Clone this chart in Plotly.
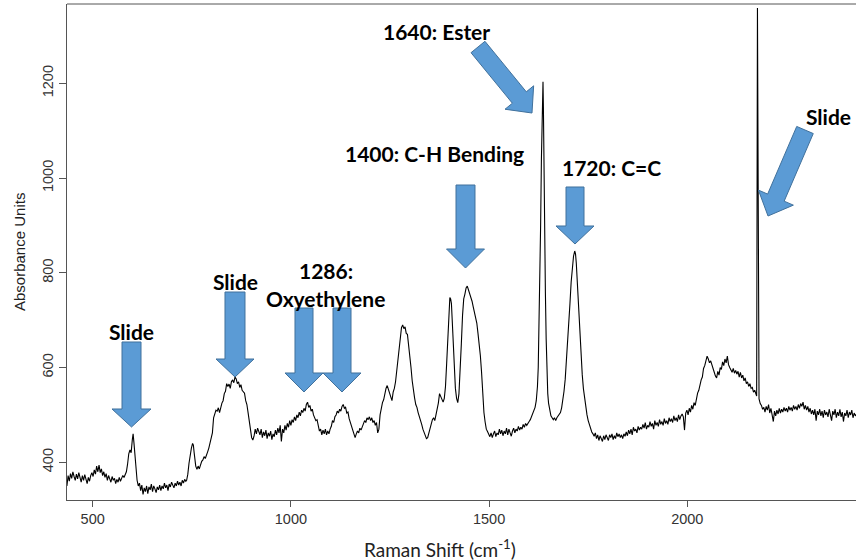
import math
import plotly.graph_objects as go

# ---------------- data ----------------
raman_shift = [
    435, 438, 441, 444, 447, 450, 453, 456, 459, 462, 465, 468, 471, 474, 477, 480, 483, 486, 489, 492,
    495, 498, 501, 504, 507, 510, 513, 516, 519, 522, 525, 528, 531, 534, 537, 540, 543, 546, 549, 552,
    555, 558, 561, 564, 567, 570, 573, 576, 579, 582,
    585, 588, 591, 594, 597, 600, 602, 604, 606, 608, 610, 612, 615, 618,
    621, 624, 627, 630, 633, 636, 639, 642, 645, 648, 651, 654, 657, 660, 663, 666, 669, 672, 675, 678,
    681, 684, 687, 690, 693, 696, 699, 702, 705, 708, 711, 714, 717, 720, 723, 726, 729, 732, 735,
    737, 740, 743, 746, 749, 752, 754, 756, 758, 760, 763, 766, 769, 772, 775, 778, 781, 784, 787, 790,
    793, 796, 799, 802, 805, 808, 811, 814, 817, 820, 823, 826, 829, 832, 835, 838, 841, 844, 847, 850,
    853, 856, 859, 862, 865, 868, 871, 874, 877, 880, 883, 886, 889, 892, 895, 898, 901, 904, 907, 910,
    913, 916, 919,
    922, 925, 928, 931, 934, 937, 940, 943, 946, 949, 952, 955, 958, 961, 964, 967, 970, 973, 976, 979,
    982, 985, 988, 991, 994, 997, 1000, 1003, 1006, 1009, 1012, 1015, 1018, 1021, 1024, 1027, 1030, 1033,
    1036, 1039, 1042, 1045, 1048, 1051, 1054, 1057, 1060, 1063, 1066, 1069, 1072, 1075, 1078, 1081, 1084,
    1087, 1090, 1093, 1096, 1099, 1102, 1105, 1108, 1111, 1114, 1117, 1120, 1123, 1126, 1129, 1132, 1135,
    1138, 1141, 1144, 1147, 1150, 1153, 1156, 1159, 1162, 1165, 1168, 1171, 1174, 1177, 1180, 1183, 1186,
    1189, 1192, 1195, 1198, 1201, 1204, 1207, 1210, 1213, 1216, 1219, 1222, 1225, 1228, 1231, 1234, 1237,
    1240, 1243, 1246, 1249, 1252, 1255, 1258, 1261, 1264, 1267, 1270, 1273, 1276, 1279, 1282, 1285, 1288,
    1291, 1294, 1297, 1300, 1303, 1306, 1309, 1312, 1315, 1318, 1321, 1324, 1327, 1330, 1333, 1336, 1339,
    1342, 1345, 1348, 1351, 1354, 1357, 1360, 1363, 1366, 1369, 1372, 1375, 1378, 1381, 1384, 1387, 1390,
    1393, 1395, 1397, 1399, 1401, 1403, 1405, 1407, 1409, 1411, 1413, 1415, 1418, 1421, 1424, 1427, 1430,
    1433, 1436, 1439, 1442, 1445, 1448, 1451, 1454, 1457, 1460, 1463, 1466, 1469, 1472, 1475, 1478, 1481,
    1484, 1487, 1490, 1493, 1496, 1499, 1502, 1505, 1508, 1511, 1514, 1517, 1520, 1523, 1526, 1529, 1532,
    1535, 1538, 1541, 1544, 1547, 1550, 1553, 1556, 1559, 1562, 1565, 1568, 1571, 1574, 1577, 1580, 1583,
    1586, 1589, 1592, 1595, 1598, 1601, 1604, 1607, 1610, 1613, 1616, 1619, 1622, 1624, 1626, 1628, 1630,
    1632, 1634, 1636, 1637, 1638, 1640, 1642, 1644, 1646, 1648, 1650, 1653, 1656, 1659, 1662, 1665, 1668,
    1671, 1674, 1677, 1680, 1683, 1686, 1689, 1692, 1695, 1698, 1701, 1704, 1707, 1710, 1713, 1716, 1718,
    1720, 1723, 1726, 1729, 1732, 1735, 1738, 1741, 1744, 1747, 1750, 1753, 1756, 1759, 1762, 1765, 1768,
    1771, 1774, 1777, 1780, 1783, 1786, 1789, 1792, 1795, 1798, 1801, 1804, 1807, 1810, 1813, 1816, 1819,
    1822, 1825, 1828, 1831, 1834, 1837, 1840, 1843, 1846, 1849, 1852, 1855, 1858, 1861, 1864, 1867, 1870,
    1873, 1876, 1879, 1882, 1885, 1888, 1891, 1894, 1897, 1900, 1903, 1906, 1909, 1912, 1915, 1918, 1921,
    1924, 1927, 1930, 1933, 1936, 1939, 1942, 1945, 1948, 1951, 1954, 1957, 1960, 1963, 1966, 1969, 1972,
    1975, 1978, 1981, 1984, 1987, 1990, 1993, 1996, 1999, 2002, 2005, 2008, 2011, 2014, 2017, 2020, 2023,
    2026, 2029, 2032, 2035, 2038, 2041, 2044, 2047, 2050, 2053, 2056, 2059, 2062, 2065, 2068, 2071, 2074,
    2077, 2080, 2083, 2086, 2089, 2092, 2095, 2098, 2101, 2104, 2107, 2110, 2113, 2116, 2119, 2122, 2125,
    2128, 2131, 2134, 2137, 2140, 2143, 2146, 2149, 2152, 2155, 2158, 2161, 2164, 2167, 2170, 2173, 2175,
    2177, 2181, 2184, 2187, 2190, 2193, 2196, 2199, 2202, 2205, 2208, 2211, 2214, 2217, 2220, 2223, 2226,
    2229, 2232, 2235, 2238, 2241, 2244, 2247, 2250, 2253, 2256, 2259, 2262, 2265, 2268, 2271, 2274, 2277,
    2280, 2283, 2286, 2289, 2292, 2295, 2298, 2301, 2304, 2307, 2310, 2313, 2316, 2319, 2322, 2325, 2328,
    2331, 2334, 2337, 2340, 2343, 2346, 2349, 2352, 2355, 2358, 2361, 2364, 2367, 2370, 2373, 2376, 2379,
    2382, 2385, 2388, 2391, 2394, 2397, 2400, 2403, 2406, 2409, 2412, 2415, 2418, 2421, 2424, 2427,
]

absorbance = [
    350, 372, 360, 376, 366, 380, 370, 362, 375, 365, 378, 368, 358, 372, 362, 374, 366, 355, 368, 360,
    372, 378, 370, 384, 375, 392, 380, 394, 378, 386, 372, 380, 368, 376, 362, 372, 365, 358, 370, 362,
    366, 355, 364, 358, 368, 360, 366, 372, 368, 375,
    380, 396, 418, 426, 420, 448, 460, 442, 420, 395, 378, 362, 350, 356,
    340, 352, 332, 346, 338, 350, 334, 348, 342, 354, 338, 350, 344, 336, 348, 342, 352, 340, 350, 344,
    356, 346, 352, 340, 354, 348, 358, 350, 346, 356, 350, 360, 352, 358, 350, 362, 356, 364, 360,
    362, 375, 398, 418, 430, 440, 436, 420, 405, 392, 385, 392, 386, 396, 402, 405, 412, 408, 418, 422,
    430, 440, 448, 462, 494, 502, 510, 508, 515, 505, 518, 525, 530, 545, 550, 566, 560, 565, 556, 570,
    574, 568, 580, 576, 566, 570, 558, 564, 552, 548, 546, 530, 522, 505, 490, 470, 452, 447, 455, 470,
    460, 472, 466,
    458, 470, 452, 464, 456, 468, 450, 462, 455, 466, 448, 460, 454, 468, 458, 472, 462, 478, 444, 470,
    462, 478, 468, 482, 474, 488, 478, 490, 484, 496, 488, 500, 494, 506, 498, 510, 505, 514,
    508, 522, 527, 516, 520, 508, 512, 500, 494, 488, 490, 476, 466, 470, 458, 468, 460,
    470, 458, 466, 460, 470, 476, 488, 484, 496, 500, 508, 504, 512, 508, 518, 522, 514,
    516, 504, 506, 492, 484, 476, 466, 458, 452, 460, 466, 462, 472, 468, 476, 480, 488,
    484, 494, 490, 496, 488, 494, 484, 488, 478, 484, 462, 470, 500, 515, 526, 532, 548,
    556, 562, 554, 548, 538, 530, 548, 556, 570, 594, 615, 640, 662, 684, 690, 682, 686,
    672, 670, 650, 630, 600, 572, 548, 536, 522, 516, 505, 498, 488, 480, 470, 464, 458,
    450, 452, 462, 474, 480, 490, 494, 488, 500, 510, 525, 545, 540, 532, 527, 535, 560,
    609, 650, 700, 736, 748, 745, 735, 700, 665, 620, 580, 556, 535, 526, 545, 590, 650,
    710, 745, 755, 768, 772, 764, 758, 752, 740, 728, 715, 708, 694, 672, 650, 625, 590,
    540, 505, 485, 470, 465, 460, 454, 462, 452, 460, 466, 454, 462, 458, 470, 460, 468,
    456, 466, 460, 472, 458, 470, 462, 455, 466, 472, 462, 470, 466, 476, 468, 474, 470,
    480, 474, 482, 478, 484, 486, 490, 496, 500, 506, 516, 530, 560, 600, 685, 790, 900,
    1040, 1150, 1203, 1150, 1040, 900, 760, 660, 580, 545, 525, 508, 498, 494, 490, 494, 488,
    494, 498, 502, 505, 515, 530, 550, 575, 610, 650, 690, 735, 780, 815, 835, 846, 840,
    820, 770, 710, 660, 620, 585, 555, 532, 512, 500, 488, 478, 470, 464, 460, 455, 462,
    450, 458, 446, 456, 450, 444, 456, 448, 458, 450, 446, 458, 452, 460, 448, 456, 450,
    462, 454, 460, 452, 458, 450, 460, 455, 464, 456, 468, 460, 470, 458, 474, 466, 470,
    462, 476, 468, 474, 470, 480, 472, 484, 470, 478, 474, 486, 476, 482, 470, 488, 478,
    484, 476, 490, 480, 486, 478, 492, 482, 488, 480, 494, 486, 492, 484, 498, 488, 494,
    486, 500, 490, 498, 502, 496, 468, 504, 510, 500, 514, 506, 520, 512, 526, 520, 535,
    546, 552, 566, 574, 580, 598, 604, 615, 624, 618, 610, 614, 604, 598, 590, 582, 578,
    592, 584, 600, 596, 612, 604, 618, 610, 624, 606, 600, 596, 590, 598, 588, 594, 586,
    592, 580, 590, 578, 584, 572, 578, 566, 570, 560, 566, 556, 558, 548, 552, 544, 540,
    1359, 534, 524, 520, 512, 516, 506, 518, 510, 522, 504, 514, 500, 486, 508, 498, 510,
    502, 514, 504, 512, 506, 516, 508, 514, 506, 518, 510, 516, 508, 520, 512, 518, 510,
    522, 514, 524, 518, 527, 512, 520, 510, 518, 506, 514, 502, 510, 500, 512, 488, 508,
    500, 512, 498, 508, 494, 510, 500, 506, 496, 512, 498, 488, 508, 500, 512, 494, 506,
    498, 512, 496, 506, 486, 504, 498, 510, 494, 506, 500, 510, 494, 504, 498, 502,
]

x_tick_values = [500, 1000, 1500, 2000]
y_tick_values = [400, 600, 800, 1000, 1200]

label_texts = ["Slide", "Slide", "1286:", "Oxyethylene", "1400: C-H Bending",
               "1640: Ester", "1720: C=C", "Slide"]

# ---------------- layout geometry (pixels) ----------------
W, H = 856, 560
L, R, T, B = 67, 856, 4, 500          # plot-area edges in page pixels
XR = [435.2, 2425.6]
YR = [320.4, 1367.4]


def to_paper(px, py):
    return (px - L) / (R - L), (B - py) / (B - T)


def arrow_path(tail, tip, sw, hw, hl):
    tx, ty = tail
    hx, hy = tip
    dx, dy = hx - tx, hy - ty
    n = math.hypot(dx, dy)
    ux, uy = dx / n, dy / n
    nx, ny = -uy, ux
    bx, by = hx - ux * hl, hy - uy * hl
    pts = [
        (tx + nx * sw / 2, ty + ny * sw / 2),
        (bx + nx * sw / 2, by + ny * sw / 2),
        (bx + nx * hw / 2, by + ny * hw / 2),
        (hx, hy),
        (bx - nx * hw / 2, by - ny * hw / 2),
        (bx - nx * sw / 2, by - ny * sw / 2),
        (tx - nx * sw / 2, ty - ny * sw / 2),
    ]
    pp = [to_paper(*p) for p in pts]
    return "M " + " L ".join(f"{x:.5f},{y:.5f}" for x, y in pp) + " Z"


arrows = [
    ((131.5, 342), (131.5, 427), 19, 39, 18),
    ((235, 292), (235, 377), 20, 38, 18),
    ((304, 308), (304, 392), 18, 38, 19),
    ((342, 308), (342, 392), 18, 38, 19),
    ((465.5, 185), (465.5, 268), 19, 38, 19),
    ((575, 187), (575, 244), 18, 38, 18),
    ((478, 47), (532, 113), 18, 37, 20),
    ((805, 130), (768, 216), 18, 38, 20),
]

label_pos = [(131, 331), (235.5, 281), (326, 270), (325.5, 298), (434, 154),
             (436, 31), (611, 167), (828, 117)]

fig = go.Figure()
fig.add_trace(go.Scatter(x=raman_shift, y=absorbance, mode="lines",
                         line=dict(color="black", width=1.1), hoverinfo="skip",
                         showlegend=False))

shapes = [dict(type="line", xref="paper", yref="paper", x0=0, x1=1, y0=1, y1=1,
               line=dict(color="#555", width=1))]
for tail, tip, sw, hw, hl in arrows:
    shapes.append(dict(type="path", xref="paper", yref="paper",
                       path=arrow_path(tail, tip, sw, hw, hl),
                       fillcolor="#5B9BD5", line=dict(color="#41719C", width=1)))

annotations = []
for txt, (px, py) in zip(label_texts, label_pos):
    ax, ay = to_paper(px, py)
    annotations.append(dict(text=f"<b>{txt}</b>", x=ax, y=ay, xref="paper", yref="paper",
                            xanchor="center", yanchor="middle", showarrow=False,
                            font=dict(family="Lato", size=21, color="black")))

ax, ay = to_paper(440, 548)
annotations.append(dict(text="Raman Shift (cm<sup>-1</sup>)", x=ax, y=ay, xref="paper", yref="paper",
                        xanchor="center", yanchor="middle", showarrow=False,
                        font=dict(family="Lato", size=19, color="#222")))
ax, ay = to_paper(19, 252)
annotations.append(dict(text="Absorbance Units", x=ax, y=ay, xref="paper", yref="paper",
                        xanchor="center", yanchor="middle", showarrow=False, textangle=-90,
                        font=dict(family="Liberation Sans", size=15, color="#222")))

fig.update_layout(
    width=W, height=H,
    margin=dict(l=L, r=W - R, t=T, b=H - B, pad=0),
    paper_bgcolor="white", plot_bgcolor="white",
    shapes=shapes, annotations=annotations,
    xaxis=dict(range=XR, showgrid=False, zeroline=False, showline=True, linecolor="#555",
               linewidth=1, ticks="outside", ticklen=6, tickcolor="#555",
               tickvals=x_tick_values, ticktext=[str(v) for v in x_tick_values],
               tickfont=dict(family="Liberation Sans", size=14.5, color="#333")),
    yaxis=dict(range=YR, showgrid=False, zeroline=False, showline=True, linecolor="#555",
               linewidth=1, ticks="outside", ticklen=7, tickcolor="#555",
               tickvals=y_tick_values, ticktext=[str(v) for v in y_tick_values],
               tickangle=-90,
               tickfont=dict(family="Liberation Sans", size=14.5, color="#333")),
)

fig.write_html("out.html")
